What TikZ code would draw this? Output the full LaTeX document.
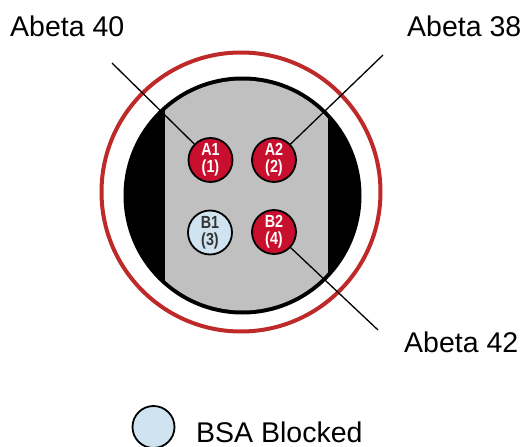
\documentclass[tikz,border=0pt]{standalone}
\usepackage{fontspec}
\setmainfont{Liberation Sans}
\newfontfamily\dotfont[FakeStretch=0.82]{Liberation Sans}
\definecolor{redfill}{HTML}{C8102E}
\definecolor{ringred}{HTML}{BE2A2A}
\definecolor{blockblue}{HTML}{CFE3F0}
\definecolor{plategray}{HTML}{C0C0C0}
\tikzset{
  spot/.style={circle, draw=black, line width=1.8pt, minimum size=44pt, inner sep=0pt,
    align=center, font=\dotfont\bfseries\fontsize{17.5}{17}\selectfont},
  redspot/.style={spot, fill=redfill, text=white},
  bluespot/.style={spot, fill=blockblue, text=black!80},
  lbl/.style={anchor=base west, inner sep=0pt, font=\fontsize{28.5}{32}\selectfont},
  leader/.style={line width=1.3pt, black}
}
\begin{document}
\begin{tikzpicture}[x=1pt,y=-1pt]
\useasboundingbox (0,0) rectangle (528,447);
% outer red ring
\draw[ringred, line width=4pt] (241,192) circle[radius=139.5];
% black disc
\fill[black] (242.5,195.5) circle[radius=119];
% gray plate clipped to inner disc
\begin{scope}
  \clip (242.5,195.5) circle[radius=115];
  \fill[plategray] (165,60) rectangle (328,330);
\end{scope}
% spots
\node[redspot] (A1) at (210.5,160) {A1\\(1)};
\node[redspot] (A2) at (274,160) {A2\\(2)};
\node[bluespot] (B1) at (210,232.5) {B1\\(3)};
\node[redspot] (B2) at (274,232) {B2\\(4)};
% labels
\node[lbl] (L40) at (10,36) {Abeta 40};
\node[lbl] (L38) at (407,36) {Abeta 38};
\node[lbl] (L42) at (404,352) {Abeta 42};
% leader ends
\coordinate (e40) at (112,63);
\coordinate (e38) at (383,55);
\coordinate (e42) at (378,330);
\draw[leader] (e40) -- (A1);
\draw[leader] (e38) -- (A2);
\draw[leader] (B2) -- (e42);
% legend
\node[circle, draw=black, line width=1.8pt, fill=blockblue, minimum size=42pt, inner sep=0pt] (leg) at (153.5,427) {};
\node[lbl] (legtext) at (196,442) {BSA Blocked};
\end{tikzpicture}
\end{document}
